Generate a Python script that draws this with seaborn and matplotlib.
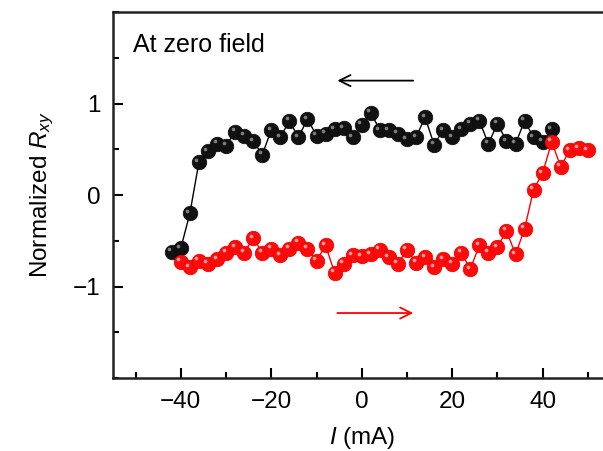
import matplotlib
matplotlib.use("Agg")
import matplotlib.pyplot as plt
import matplotlib.transforms as mtransforms
import seaborn as sns
import pandas as pd
from matplotlib.ticker import MultipleLocator

# Data
black_current = [-42, -40, -38, -36, -34, -32, -30, -28, -26, -24, -22, -20, -18, -16, -14, -12,
                 -10, -8, -6, -4, -2, 0, 2, 4, 6, 8, 10, 12, 14, 16, 18, 20, 22, 24, 26, 28,
                 30, 32, 34, 36, 38, 40, 42]
black_rxy = [-0.62, -0.58, -0.20, 0.36, 0.48, 0.56, 0.54, 0.69, 0.65, 0.59, 0.44, 0.71, 0.63,
             0.81, 0.63, 0.83, 0.65, 0.67, 0.72, 0.73, 0.63, 0.77, 0.90, 0.71, 0.71, 0.67,
             0.61, 0.63, 0.85, 0.55, 0.71, 0.63, 0.72, 0.78, 0.81, 0.56, 0.78, 0.59, 0.56,
             0.81, 0.63, 0.58, 0.72]

red_current = [-40, -38, -36, -34, -32, -30, -28, -26, -24, -22, -20, -18, -16, -14, -12, -10,
               -8, -6, -4, -2, 0, 2, 4, 6, 8, 10, 12, 14, 16, 18, 20, 22, 24, 26, 28, 30, 32,
               34, 36, 38, 40, 42, 44, 46, 48, 50]
red_rxy = [-0.73, -0.79, -0.72, -0.75, -0.70, -0.63, -0.57, -0.63, -0.47, -0.63, -0.59, -0.66,
           -0.59, -0.52, -0.59, -0.72, -0.55, -0.85, -0.75, -0.66, -0.67, -0.65, -0.60, -0.68,
           -0.75, -0.60, -0.74, -0.68, -0.79, -0.70, -0.75, -0.63, -0.81, -0.55, -0.63, -0.57,
           -0.39, -0.65, -0.37, 0.06, 0.24, 0.58, 0.31, 0.49, 0.51, 0.49]

xticks = [-40, -20, 0, 20, 40]
yticks = [-1, 0, 1]

sns.set_theme(style="white")
plt.rcParams["font.family"] = ["Liberation Sans", "DejaVu Sans"]
plt.rcParams["mathtext.fontset"] = "custom"
plt.rcParams["mathtext.it"] = "Liberation Sans:italic"
plt.rcParams["mathtext.rm"] = "Liberation Sans"
plt.rcParams["text.color"] = "black"
plt.rcParams["axes.labelcolor"] = "black"
plt.rcParams["xtick.color"] = "black"
plt.rcParams["ytick.color"] = "black"

fig = plt.figure(figsize=(6.03, 4.51), dpi=100)
ax = fig.add_axes([113 / 603, 1 - 378 / 451, 497.5 / 603, 366 / 451])

df_b = pd.DataFrame({"I": black_current, "R": black_rxy})
df_r = pd.DataFrame({"I": red_current, "R": red_rxy})

sns.lineplot(data=df_b, x="I", y="R", ax=ax, color="black", lw=1.0, marker="o",
             markersize=10.5, markeredgecolor="#0a0a0a", markeredgewidth=0.5,
             markerfacecolor="#111111", estimator=None, sort=False)
sns.lineplot(data=df_r, x="I", y="R", ax=ax, color="#ff0000", lw=1.0, marker="o",
             markersize=10.5, markeredgecolor="#e80000", markeredgewidth=0.5,
             markerfacecolor="#ff0a0a", estimator=None, sort=False)

# small highlight, shifted up-left, to suggest the shaded spheres
shift = mtransforms.ScaledTranslation(-2.5 / 100, 2.5 / 100, fig.dpi_scale_trans)
ax.scatter(df_b["I"], df_b["R"], s=7, color="#8a8a8a", zorder=5, linewidths=0,
           transform=ax.transData + shift, alpha=0.9)
ax.scatter(df_r["I"], df_r["R"], s=7, color="#ffb0b0", zorder=5, linewidths=0,
           transform=ax.transData + shift, alpha=0.9)

ax.set_xlim(-55, 55)
ax.set_ylim(-2, 2)
ax.set_xticks(xticks)
ax.set_yticks(yticks)
ax.set_xticklabels(["\u221240", "\u221220", "0", "20", "40"])
ax.set_yticklabels(["\u22121", "0", "1"])
ax.xaxis.set_minor_locator(MultipleLocator(10))
ax.yaxis.set_minor_locator(MultipleLocator(0.5))
ax.tick_params(axis="both", which="major", direction="in", length=7, width=1.5,
               labelsize=17.5, top=False, right=False, pad=9)
ax.tick_params(axis="both", which="minor", direction="in", length=4, width=1.5,
               top=False, right=False)
ax.tick_params(axis="x", which="both", bottom=True)
ax.tick_params(axis="y", which="both", left=True)

for s in ax.spines.values():
    s.set_linewidth(1.8)
    s.set_color("#222222")

ax.set_xlabel(r"$I$ (mA)", fontsize=17.5, labelpad=9)
ax.set_ylabel(r"Normalized $R_{xy}$", fontsize=17.5, labelpad=12)

ax.text(0.04, 0.91, "At zero field", transform=ax.transAxes, fontsize=18,
        ha="left", va="center")

ax.annotate("", xy=(-6, 1.25), xytext=(12, 1.25),
            arrowprops=dict(arrowstyle="->", color="black", lw=1.3, mutation_scale=20))
ax.annotate("", xy=(12, -1.29), xytext=(-6, -1.29),
            arrowprops=dict(arrowstyle="->", color="#ff0000", lw=1.3, mutation_scale=20))

ax.grid(False)
fig.savefig("out.png", dpi=100)
